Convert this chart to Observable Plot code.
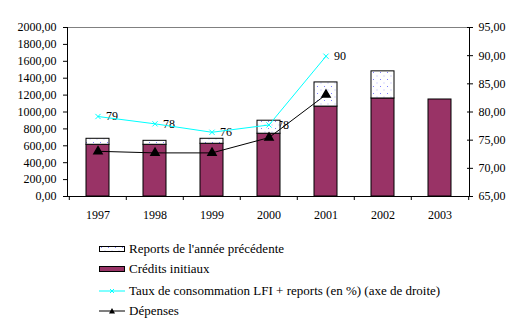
<!DOCTYPE html>
<html>
<head>
<meta charset="utf-8">
<script src="https://cdn.jsdelivr.net/npm/d3@7"></script>
<script src="https://cdn.jsdelivr.net/npm/@observablehq/plot@0.6"></script>
<style>
  html, body { margin: 0; padding: 0; background: #fff; }
  #wrap { position: relative; width: 524px; height: 330px; font-family: "Liberation Serif", "Times New Roman", Times, serif; font-size: 13px; color: #000; }
  #chart { position: absolute; left: 0; top: 0; }
  .leg { position: absolute; left: 99px; height: 20px; display: flex; align-items: center; white-space: nowrap; }
  .leg svg { margin-right: 4px; flex: none; }
</style>
</head>
<body>
<div id="wrap">
  <div id="chart"></div>
  <div id="legend"></div>
</div>
<script>
// ---- data ----
const years = ["1997", "1998", "1999", "2000", "2001", "2002", "2003"];
const credits = [612, 612, 624, 743, 1064, 1160, 1148];
const reports = [71, 47, 59, 154, 286, 321, 0];
const depensesYears = ["1997", "1998", "1999", "2000", "2001"];
const depenses = [535, 516, 516, 697, 1205];
const tauxYears = ["1997", "1998", "1999", "2000", "2001"];
const taux = [79.2, 77.9, 76.4, 77.7, 89.9];
const tauxLabels = ["79", "78", "76", "78", "90"];
const leftTicks = [0, 200, 400, 600, 800, 1000, 1200, 1400, 1600, 1800, 2000];
const rightTicks = [65, 70, 75, 80, 85, 90, 95];
const legendLabels = [
  "Reports de l'année précédente",
  "Crédits initiaux",
  "Taux de consommation LFI + reports (en %) (axe de droite)",
  "Dépenses"
];

// ---- layout ----
const W = 524, H = 230, ML = 67, MR = 55, MT = 27, MB = 34;
const step = (W - ML - MR) / years.length;
const rMin = 65, rMax = 95, lMax = 2000;
const toLeft = t => (t - rMin) * lMax / (rMax - rMin);
const toRight = v => rMin + v * (rMax - rMin) / lMax;
const fmt = v => v.toFixed(2).replace(".", ",");

const bars = years.map((y, i) => ({year: y, credit: credits[i], report: reports[i], total: credits[i] + reports[i]}));
const tauxData = tauxYears.map((y, i) => ({year: y, v: toLeft(taux[i]), label: tauxLabels[i]}));
const depData = depensesYears.map((y, i) => ({year: y, v: depenses[i]}));

const chart = Plot.plot({
  width: W, height: H,
  marginLeft: ML, marginRight: MR, marginTop: MT, marginBottom: MB,
  style: {fontFamily: "'Liberation Serif', 'Times New Roman', Times, serif", fontSize: "12px", background: "white", color: "black"},
  x: {type: "band", domain: years, paddingInner: 0.6, paddingOuter: 0.3, axis: null, label: null},
  y: {domain: [0, lMax], axis: null, label: null},
  marks: [
    Plot.ruleY([lMax], {stroke: "#808080"}),
    Plot.text(tauxData, {x: "year", y: "v", text: "label", dx: 8, textAnchor: "start", fill: "black", fontSize: 12}),
    Plot.barY(bars, {x: "year", y1: 0, y2: "credit", fill: "#993366", stroke: "black", strokeWidth: 1}),
    Plot.barY(bars.filter(d => d.report > 0), {x: "year", y1: "credit", y2: "total", fill: "url(#dots)", stroke: "black", strokeWidth: 1}),
    Plot.line(tauxData, {x: "year", y: "v", stroke: "#00ffff", strokeWidth: 1}),
    Plot.dot(tauxData, {x: "year", y: "v", symbol: "times", r: 2.5, stroke: "#00ffff", strokeWidth: 1}),
    Plot.line(depData, {x: "year", y: "v", stroke: "black", strokeWidth: 1}),
    Plot.dot(depData, {x: "year", y: "v", symbol: "triangle", r: 3, fill: "black", stroke: "black"}),
    Plot.ruleY([0], {stroke: "black"}),
    Plot.frame({anchor: "left", stroke: "black"}),
    Plot.frame({anchor: "right", stroke: "black"}),
    Plot.ruleX(years, {x: d => d, y1: 0, y2: 0, insetBottom: -4, dx: -step / 2, stroke: "black"}),
    Plot.ruleX([years[years.length - 1]], {x: d => d, y1: 0, y2: 0, insetBottom: -4, dx: step / 2, stroke: "black"}),
    Plot.axisX({tickSize: 0, tickPadding: 14, fontSize: 12, label: null}),
    Plot.axisY(leftTicks, {anchor: "left", tickSize: 4, tickPadding: 7, tickFormat: fmt, fontSize: 12, label: null}),
    Plot.axisY(rightTicks.map(toLeft), {anchor: "right", tickSize: 3, tickPadding: 6, tickFormat: d => fmt(toRight(d)), fontSize: 12, label: null}),
    Plot.axisY(rightTicks.map(toLeft), {anchor: "right", tickSize: -3, tickFormat: () => "", label: null})
  ]
});

// dotted pattern for "Reports"
const NS = "http://www.w3.org/2000/svg";
const defs = document.createElementNS(NS, "defs");
defs.innerHTML = '<pattern id="dots" patternUnits="userSpaceOnUse" width="7" height="7">' +
  '<rect width="7" height="7" fill="white"/>' +
  '<rect x="2" y="2" width="1" height="1" fill="#8080ff"/>' +
  '<rect x="5.5" y="5.5" width="1" height="1" fill="#b0b0ff"/></pattern>';
chart.insertBefore(defs, chart.firstChild);
document.getElementById("chart").appendChild(chart);

// ---- legend ----
const leg = document.getElementById("legend");
const swatches = [
  '<svg width="26" height="8"><rect x="0.5" y="1.5" width="25" height="5" fill="url(#dots)" stroke="black"/></svg>',
  '<svg width="26" height="8"><rect x="0.5" y="1.5" width="25" height="5" fill="#993366" stroke="black"/></svg>',
  '<svg width="26" height="8"><line x1="0" x2="26" y1="4" y2="4" stroke="#00ffff"/><path d="M11,2L15,6M15,2L11,6" stroke="#00ffff"/></svg>',
  '<svg width="26" height="8"><line x1="0" x2="26" y1="4" y2="4" stroke="black"/><path d="M13,1L16,6.5L10,6.5Z" fill="black"/></svg>'
];
const tops = [239, 259, 281, 301];
legendLabels.forEach((t, i) => {
  const d = document.createElement("div");
  d.className = "leg";
  d.style.top = tops[i] + "px";
  d.innerHTML = swatches[i] + "<span>" + t + "</span>";
  leg.appendChild(d);
});
</script>
</body>
</html>
